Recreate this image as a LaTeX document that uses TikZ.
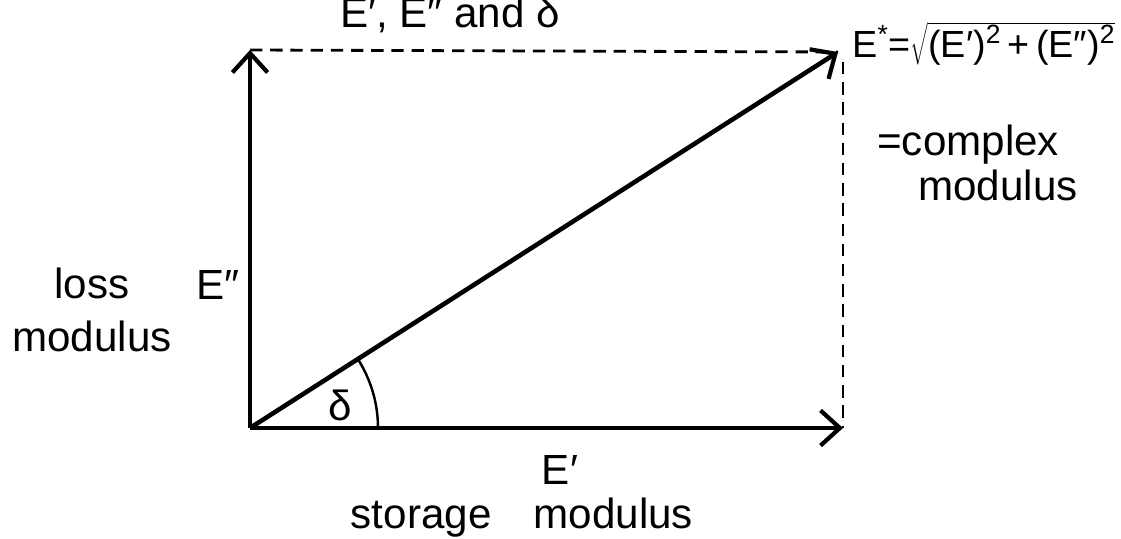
\documentclass[tikz,border=0pt]{standalone}
\usepackage{fontspec}
\setmainfont{Liberation Sans}
\usetikzlibrary{arrows.meta,positioning,calc}

\begin{document}
\begin{tikzpicture}[x=0.02cm, y=-0.02cm,
    vec/.style={line width=2.6pt, -{Straight Barb[length=11pt, width=20pt, line width=2.4pt]}},
    proj/.style={line width=1.6pt, dash pattern=on 7pt off 4.5pt},
    lbl/.style={font=\fontsize{24}{30}\selectfont, align=center}
  ]
    \useasboundingbox (0,0) rectangle (1121,538);
    \coordinate (O) at (250,428);
    \coordinate (Ey) at (250,50);
    \coordinate (Ex) at (843,428);
    \coordinate (Es) at (838,52);

    \draw[proj] (Ey) -- (Es);
    \draw[proj] (843,62) -- (Ex);
    \draw[vec] (O) -- (Ey);
    \draw[vec] (O) -- (Ex);
    \draw[vec] (O) -- (Es);
    \draw[line width=1.4pt] ($(O)+(128,0)$) arc[start angle=0, end angle=32.6, radius=2.56cm];

    \node[lbl, anchor=base] (title) at (450,27) {E′, E″ and δ};
    \node[lbl] (loss) at (92,310) {loss\\modulus};
    \node[lbl] (Eloss) at (218,285) {E″};
    \node[lbl] (delta) at (340,405) {δ};
    \node[lbl] (Estor) at (560,470) {E′};
    \node[lbl] (stor) at (522,518) {storage\quad modulus};
    \node[lbl, font=\fontsize{21.5}{26}\selectfont, anchor=base west, inner sep=0pt] (Estar) at (852,57)
      {E\textsuperscript{*}=$\sqrt{\mbox{(E′)\textsuperscript{2}\,+\,(E″)\textsuperscript{2}}}$};
    \node[lbl, anchor=base west, inner sep=0pt] (cplx) at (877,155) {=complex};
    \node[lbl, anchor=base west, inner sep=0pt] (cmod) at (918,200) {modulus};
  \end{tikzpicture}
\end{document}
